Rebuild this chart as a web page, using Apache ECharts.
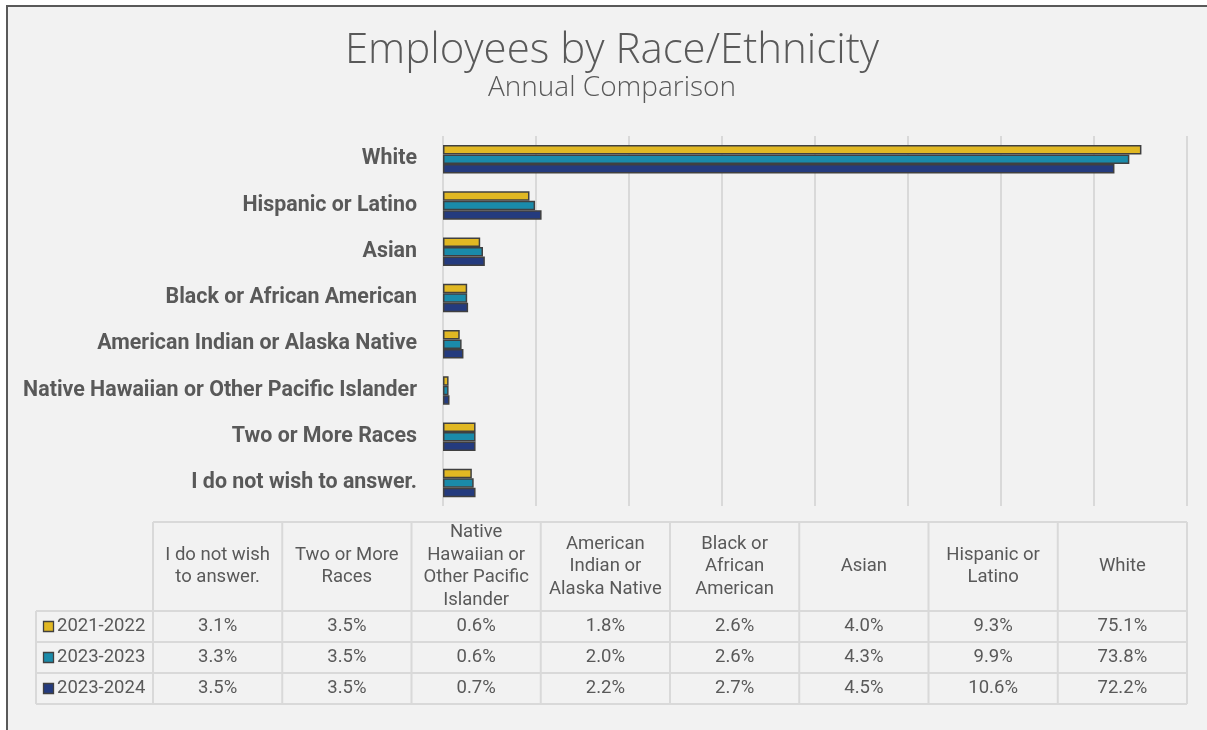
<!DOCTYPE html>
<html>
<head>
<meta charset="utf-8">
<script src="https://cdn.jsdelivr.net/npm/echarts@6/dist/echarts.min.js"></script>
<style>
  html, body { margin: 0; padding: 0; background: #ffffff; }
  #chart { width: 1207px; height: 730px; }
</style>
</head>
<body>
<div id="chart"></div>
<script>
// Categories in table order (also bottom-to-top on the bar chart)
const categories = [
  'I do not wish to answer.',
  'Two or More Races',
  'Native Hawaiian or Other Pacific Islander',
  'American Indian or Alaska Native',
  'Black or African American',
  'Asian',
  'Hispanic or Latino',
  'White'
];
// Wrapped header text for the data table
const headerLabels = [
  'I do not wish\nto answer.',
  'Two or More\nRaces',
  'Native\nHawaiian or\nOther Pacific\nIslander',
  'American\nIndian or\nAlaska Native',
  'Black or\nAfrican\nAmerican',
  'Asian',
  'Hispanic or\nLatino',
  'White'
];
const seriesNames = ['2021-2022', '2023-2023', '2023-2024'];
const values2021 = [3.1, 3.5, 0.6, 1.8, 2.6, 4.0, 9.3, 75.1];
const values2023 = [3.3, 3.5, 0.6, 2.0, 2.6, 4.3, 9.9, 73.8];
const values2024 = [3.5, 3.5, 0.7, 2.2, 2.7, 4.5, 10.6, 72.2];
const xTicks = { min: 0, max: 80, interval: 10 };

const seriesValues = [values2021, values2023, values2024];
const colors = ['#E1B823', '#1A8BAA', '#243B7E'];
const textColor = '#595959';
const lineColor = '#d9d9d9';

const chart = echarts.init(document.getElementById('chart'), null, { renderer: 'canvas' });

// ---- data table built from the arrays ----
const tbl = { left: 36, firstCol: 153, right: 1187, headTop: 522, headBottom: 611, rowH: 31 };
const colW = (tbl.right - tbl.firstCol) / categories.length;
const tableFont = '18.5px Roboto';
const tableEls = [];
const line = (x1, y1, x2, y2) => ({
  type: 'line', silent: true,
  shape: { x1, y1, x2, y2 },
  style: { stroke: lineColor, lineWidth: 2 }
});
const tableBottom = tbl.headBottom + tbl.rowH * seriesNames.length;
// horizontal rules
tableEls.push(line(tbl.firstCol, tbl.headTop, tbl.right, tbl.headTop));
for (let r = 0; r <= seriesNames.length; r++) {
  const y = tbl.headBottom + r * tbl.rowH;
  tableEls.push(line(tbl.left, y, tbl.right, y));
}
// vertical rules
tableEls.push(line(tbl.left, tbl.headBottom, tbl.left, tableBottom));
for (let c = 0; c <= categories.length; c++) {
  const x = tbl.firstCol + c * colW;
  tableEls.push(line(x, tbl.headTop, x, tableBottom));
}
// header cells
headerLabels.forEach((h, c) => {
  tableEls.push({
    type: 'text', silent: true,
    x: tbl.firstCol + (c + 0.5) * colW,
    y: (tbl.headTop + tbl.headBottom) / 2,
    style: {
      text: h, fill: textColor, font: tableFont,
      align: 'center', verticalAlign: 'middle', lineHeight: 22.5
    }
  });
});
// body rows: legend key + values
seriesNames.forEach((name, r) => {
  const cy = tbl.headBottom + (r + 0.5) * tbl.rowH;
  tableEls.push({
    type: 'rect', silent: true,
    shape: { x: 43.5, y: cy - 5, width: 10, height: 10 },
    style: { fill: colors[r], stroke: '#404040', lineWidth: 1.3 }
  });
  tableEls.push({
    type: 'text', silent: true, x: 57, y: cy,
    style: { text: name, fill: textColor, font: tableFont, align: 'left', verticalAlign: 'middle' }
  });
  seriesValues[r].forEach((v, c) => {
    tableEls.push({
      type: 'text', silent: true,
      x: tbl.firstCol + (c + 0.5) * colW, y: cy,
      style: { text: v.toFixed(1) + '%', fill: textColor, font: tableFont, align: 'center', verticalAlign: 'middle' }
    });
  });
});

const option = {
  backgroundColor: '#f2f2f2',
  animation: false,
  graphic: [
    // outer frame: white margin with dark left/top edge
    { type: 'rect', silent: true, shape: { x: 0, y: 0, width: 1207, height: 5 }, style: { fill: '#ffffff' } },
    { type: 'rect', silent: true, shape: { x: 0, y: 0, width: 6, height: 730 }, style: { fill: '#ffffff' } },
    { type: 'rect', silent: true, shape: { x: 6, y: 5, width: 1201, height: 2 }, style: { fill: '#595959' } },
    { type: 'rect', silent: true, shape: { x: 6, y: 5, width: 2, height: 725 }, style: { fill: '#595959' } },
    {
      type: 'text', silent: true, x: 612, y: 51,
      style: { text: 'Employees by Race/Ethnicity', fill: textColor, font: '300 42px "Open Sans"', align: 'center', verticalAlign: 'middle' }
    },
    {
      type: 'text', silent: true, x: 612, y: 88,
      style: { text: 'Annual Comparison', fill: textColor, font: '300 28px "Open Sans"', align: 'center', verticalAlign: 'middle' }
    }
  ].concat(tableEls),
  grid: { left: 443, right: 20, top: 136, bottom: 224, containLabel: false },
  xAxis: {
    type: 'value',
    min: xTicks.min, max: xTicks.max, interval: xTicks.interval,
    axisLabel: { show: false },
    axisLine: { show: false },
    axisTick: { show: false },
    splitLine: { show: true, lineStyle: { color: lineColor, width: 2 } }
  },
  yAxis: {
    type: 'category',
    data: categories,
    axisLine: { show: false },
    axisTick: { show: false },
    axisLabel: { color: textColor, fontFamily: 'Roboto', fontWeight: 'bold', fontSize: 21.4, margin: 26 }
  },
  series: seriesNames.map((name, i) => ({
    name,
    type: 'bar',
    data: seriesValues[i],
    barWidth: 9.5,
    barGap: '0%',
    itemStyle: { color: colors[i], borderColor: '#404040', borderWidth: 1.5 }
  }))
};
chart.setOption(option);
</script>
</body>
</html>
